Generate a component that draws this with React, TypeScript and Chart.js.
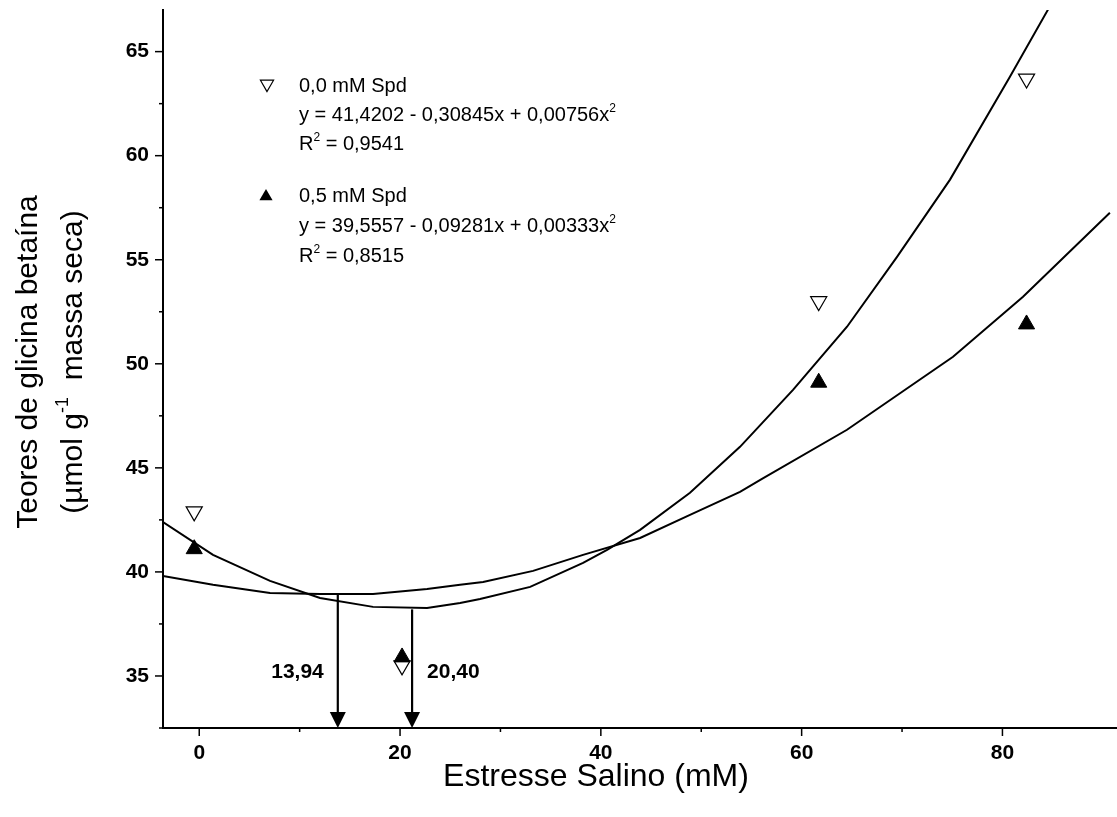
import React, { useEffect, useRef } from 'react';
import { Chart, registerables } from 'chart.js';

Chart.register(...registerables);

const W = 1117;
const H = 817;
const FONT = "'Liberation Sans', Arial, Helvetica, sans-serif";

// Observed data (x = salt stress mM)
const pointX = [-0.5, 20.2, 61.7, 82.4];
const spd00Y = [42.9, 35.5, 53.0, 63.7];
const spd05Y = [41.1, 35.9, 49.1, 51.9];

// Fitted curves
const fit00X = [-3.61, 1.37, 7.05, 12.03, 17.31, 22.69, 25.98, 27.97, 32.96, 38.23, 40.62, 43.91, 48.88, 53.86, 59.14, 64.52, 69.5, 74.78, 80.76, 84.54, 86.0];
const fit00Y = [42.4, 40.82, 39.57, 38.75, 38.32, 38.27, 38.51, 38.7, 39.28, 40.43, 41.06, 42.02, 43.8, 46.01, 48.75, 51.78, 55.14, 58.85, 63.8, 67.02, 68.26];
const fit05X = [-3.61, 1.37, 7.05, 12.03, 17.31, 22.69, 25.98, 28.27, 33.25, 38.23, 43.91, 48.88, 53.86, 56.05, 64.52, 75.08, 82.05, 90.7];
const fit05Y = [39.81, 39.38, 38.99, 38.94, 38.94, 39.18, 39.38, 39.52, 40.05, 40.82, 41.63, 42.74, 43.85, 44.47, 46.83, 50.34, 53.22, 57.26];

// Minimum markers (arrows)
const arrowX = [13.8, 21.2];
const arrowTopY = [38.9, 38.2];
const arrowLabels = ['13,94', '20,40'];

// Axis ranges / ticks
const xMin = -3.61;
const xMax = 91.41;
const yMin = 32.5;
const yMax = 67.0;
const xMajor = [0, 20, 40, 60, 80];
const yMajor = [35, 40, 45, 50, 55, 60, 65];

// Legend texts
const series1Name = '0,0 mM Spd';
const series1Eq = 'y = 41,4202 - 0,30845x + 0,00756x';
const series1R2 = ' = 0,9541';
const series2Name = '0,5 mM Spd';
const series2Eq = 'y = 39,5557 - 0,09281x + 0,00333x';
const series2R2 = ' = 0,8515';

const xTitle = 'Estresse Salino (mM)';
const yTitle1 = 'Teores de glicina betaína';
const yTitle2a = '(µmol g';
const yTitle2sup = '-1';
const yTitle2b = '  massa seca)';

type Seg = { t: string; sup?: boolean };

function drawRich(
  ctx: CanvasRenderingContext2D,
  segs: Seg[],
  x: number,
  y: number,
  size: number,
  supSize: number,
  rise: number,
  align: 'left' | 'center',
  weight = 'normal'
) {
  const main = `${weight} ${size}px ${FONT}`;
  const sup = `${weight} ${supSize}px ${FONT}`;
  let total = 0;
  for (const s of segs) {
    ctx.font = s.sup ? sup : main;
    total += ctx.measureText(s.t).width;
  }
  let cx = align === 'center' ? x - total / 2 : x;
  ctx.textAlign = 'left';
  ctx.textBaseline = 'alphabetic';
  for (const s of segs) {
    ctx.font = s.sup ? sup : main;
    ctx.fillText(s.t, cx, s.sup ? y - rise : y);
    cx += ctx.measureText(s.t).width;
  }
}

function tri(ctx: CanvasRenderingContext2D, x: number, y: number, r: number, down: boolean, filled: boolean) {
  ctx.beginPath();
  for (let i = 0; i < 3; i++) {
    const a = (down ? Math.PI : 0) + (i * 2 * Math.PI) / 3;
    const px = x + Math.sin(a) * r;
    const py = y - Math.cos(a) * r;
    if (i === 0) ctx.moveTo(px, py);
    else ctx.lineTo(px, py);
  }
  ctx.closePath();
  if (filled) {
    ctx.fillStyle = '#000';
    ctx.fill();
  } else {
    ctx.fillStyle = '#fff';
    ctx.fill();
    ctx.lineWidth = 1.2;
    ctx.strokeStyle = '#000';
    ctx.stroke();
  }
}

const overlay = {
  id: 'overlay',
  afterDraw(chart: any) {
    const ctx: CanvasRenderingContext2D = chart.ctx;
    const xs = chart.scales.x;
    const ys = chart.scales.y;
    const area = chart.chartArea;
    ctx.save();
    ctx.strokeStyle = '#000';
    ctx.fillStyle = '#000';
    ctx.lineWidth = 1.5;
    // tick marks
    for (const t of xs.ticks) {
      if (t.value > 80) continue;
      const p = xs.getPixelForValue(t.value);
      const len = xMajor.includes(t.value) ? 8 : 4;
      ctx.beginPath();
      ctx.moveTo(p, area.bottom);
      ctx.lineTo(p, area.bottom + len);
      ctx.stroke();
    }
    for (const t of ys.ticks) {
      const p = ys.getPixelForValue(t.value);
      const len = yMajor.includes(t.value) ? 8 : 4;
      ctx.beginPath();
      ctx.moveTo(area.left - len, p);
      ctx.lineTo(area.left, p);
      ctx.stroke();
    }
    // arrows
    arrowX.forEach((v, i) => {
      const px = xs.getPixelForValue(v);
      const top = ys.getPixelForValue(arrowTopY[i]);
      const tip = area.bottom;
      ctx.lineWidth = 2.2;
      ctx.beginPath();
      ctx.moveTo(px, top);
      ctx.lineTo(px, tip - 10);
      ctx.stroke();
      ctx.beginPath();
      ctx.moveTo(px - 8, tip - 16);
      ctx.lineTo(px + 8, tip - 16);
      ctx.lineTo(px, tip);
      ctx.closePath();
      ctx.fill();
      ctx.font = `bold 21px ${FONT}`;
      ctx.textBaseline = 'alphabetic';
      if (i === 0) {
        ctx.textAlign = 'right';
        ctx.fillText(arrowLabels[i], px - 14, 678);
      } else {
        ctx.textAlign = 'left';
        ctx.fillText(arrowLabels[i], px + 15, 678);
      }
    });
    // legend
    ctx.fillStyle = '#000';
    tri(ctx, 267, 84, 7.6, true, false);
    tri(ctx, 266, 196.5, 7.6, false, true);
    ctx.fillStyle = '#000';
    const ls = 20;
    drawRich(ctx, [{ t: series1Name }], 299, 92, ls, 12, 9, 'left');
    drawRich(ctx, [{ t: series1Eq }, { t: '2', sup: true }], 299, 121, ls, 12, 9, 'left');
    drawRich(ctx, [{ t: 'R' }, { t: '2', sup: true }, { t: series1R2 }], 299, 150, ls, 12, 9, 'left');
    drawRich(ctx, [{ t: series2Name }], 299, 202, ls, 12, 9, 'left');
    drawRich(ctx, [{ t: series2Eq }, { t: '2', sup: true }], 299, 232, ls, 12, 9, 'left');
    drawRich(ctx, [{ t: 'R' }, { t: '2', sup: true }, { t: series2R2 }], 299, 262, ls, 12, 9, 'left');
    // axis titles
    drawRich(ctx, [{ t: xTitle }], 596, 786, 32, 19, 13, 'center');
    ctx.save();
    ctx.translate(37, 362);
    ctx.rotate(-Math.PI / 2);
    drawRich(ctx, [{ t: yTitle1 }], 0, 0, 30, 18, 12, 'center');
    ctx.restore();
    ctx.save();
    ctx.translate(82, 362);
    ctx.rotate(-Math.PI / 2);
    drawRich(ctx, [{ t: yTitle2a }, { t: yTitle2sup, sup: true }, { t: yTitle2b }], 0, 0, 30, 18, 14, 'center');
    ctx.restore();
    ctx.restore();
  },
};

export default function App() {
  const ref = useRef<HTMLCanvasElement>(null);
  useEffect(() => {
    const toPts = (xs: number[], ys: number[]) => xs.map((x, i) => ({ x, y: ys[i] }));
    const chart = new Chart(ref.current as HTMLCanvasElement, {
      type: 'scatter',
      data: {
        datasets: [
          {
            label: '0,5 mM Spd',
            data: toPts(pointX, spd05Y),
            pointStyle: 'triangle',
            pointRadius: 9.3,
            backgroundColor: '#000',
            borderColor: '#000',
            borderWidth: 1,
          },
          {
            label: '0,0 mM Spd',
            data: toPts(pointX, spd00Y),
            pointStyle: 'triangle',
            pointRotation: 180,
            pointRadius: 9.3,
            backgroundColor: '#fff',
            borderColor: '#000',
            borderWidth: 1.2,
          },
          {
            label: 'fit 0,0',
            data: toPts(fit00X, fit00Y),
            showLine: true,
            pointRadius: 0,
            borderColor: '#000',
            borderWidth: 2,
            tension: 0,
          },
          {
            label: 'fit 0,5',
            data: toPts(fit05X, fit05Y),
            showLine: true,
            pointRadius: 0,
            borderColor: '#000',
            borderWidth: 2,
            tension: 0,
          },
        ],
      },
      options: {
        responsive: false,
        animation: false,
        devicePixelRatio: 1,
        layout: { autoPadding: false, padding: { top: 10, left: 0, right: 0, bottom: 0 } },
        plugins: { legend: { display: false }, tooltip: { enabled: false } },
        scales: {
          x: {
            type: 'linear',
            min: xMin,
            max: xMax,
            afterFit: (s: any) => {
              s.height = 89;
              s.paddingLeft = 0;
              s.paddingRight = 0;
            },
            border: { display: true, color: '#000', width: 2 },
            grid: { display: true, drawOnChartArea: false, drawTicks: true, tickLength: 8, tickColor: 'rgba(0,0,0,0)', color: 'rgba(0,0,0,0)' },
            ticks: {
              stepSize: 10,
              includeBounds: false,
              autoSkip: false,
              maxRotation: 0,
              padding: 5,
              color: '#000',
              font: { family: FONT, size: 21, weight: 'bold' },
              callback: (v: any) => (xMajor.includes(Number(v)) ? String(v) : ''),
            },
          },
          y: {
            type: 'linear',
            min: yMin,
            max: yMax,
            afterFit: (s: any) => {
              s.width = 163;
              s.paddingTop = 0;
              s.paddingBottom = 0;
            },
            border: { display: true, color: '#000', width: 2 },
            grid: { display: true, drawOnChartArea: false, drawTicks: true, tickLength: 8, tickColor: 'rgba(0,0,0,0)', color: 'rgba(0,0,0,0)' },
            ticks: {
              stepSize: 2.5,
              includeBounds: false,
              autoSkip: false,
              padding: 6,
              color: '#000',
              font: { family: FONT, size: 21, weight: 'bold' },
              callback: (v: any) => (yMajor.includes(Number(v)) ? String(v) : ''),
            },
          },
        },
      },
      plugins: [overlay],
    } as any);
    return () => chart.destroy();
  }, []);
  return (
    <div style={{ position: 'fixed', left: 0, top: 0, width: W, height: H, background: '#fff' }}>
      <canvas ref={ref} width={W} height={H} style={{ display: 'block', width: W, height: H }} />
    </div>
  );
}
